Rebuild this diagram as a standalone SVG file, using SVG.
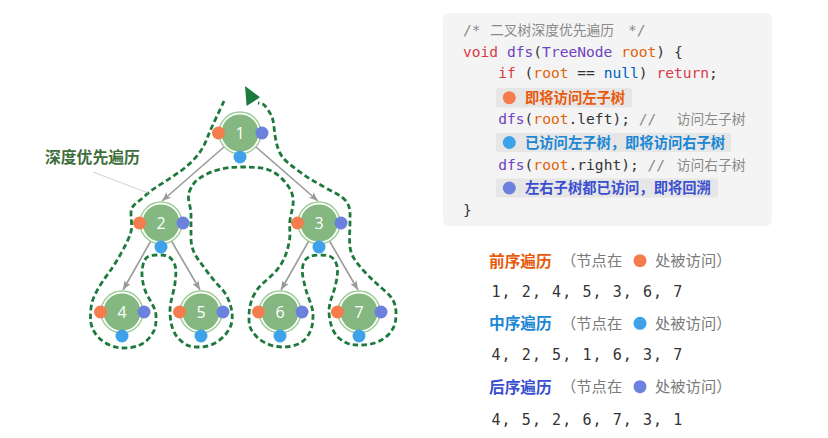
<svg xmlns="http://www.w3.org/2000/svg" width="828" height="438" viewBox="0 0 828 438">
<defs>
<style>
.edge{stroke:#9a9a9a;stroke-width:1.6;fill:none}
.ring{fill:#fff;stroke:#9ccb95;stroke-width:1.4}
.core{fill:#84b880}
.num{font-family:"Open Sans","Liberation Sans",sans-serif;font-size:16px;fill:#fff;text-anchor:middle}
.pre{fill:#f57c4d}
.in{fill:#3da2ea}
.post{fill:#6c80dd}
.code{font-family:"DejaVu Sans Mono","Noto Sans CJK SC",monospace;font-size:14.6px;fill:#333}
.cjk{font-family:"Noto Sans CJK SC",sans-serif;font-size:13.8px}
.cm{fill:#8a8a8a}
.kw{fill:#d73a49}
.fn{fill:#6f42c1}
.vr{fill:#e36209}
.nl{fill:#005cc5}
.hl{fill:#e6e6e6}
.hlt{font-family:"Noto Sans CJK SC",sans-serif;font-size:14.3px;font-weight:bold}
.hd{font-family:"Noto Sans CJK SC",sans-serif;font-size:15.7px;font-weight:bold}
.note{font-family:"Noto Sans CJK SC",sans-serif;font-size:15.3px;fill:#7a7a7a}
.seq{font-family:"DejaVu Sans Mono","Liberation Mono",monospace;font-size:15px;fill:#333;letter-spacing:1.07px}
</style>
<marker id="arr" viewBox="0 0 10 8" markerWidth="9" markerHeight="7.2" refX="10" refY="4" orient="auto" markerUnits="userSpaceOnUse">
<path d="M0,0 L10,4 L0,8 L2,4 z" fill="#9a9a9a"/>
</marker>
</defs>
<rect width="828" height="438" fill="#fff"/>

<g id="connectors">
<line class="edge" x1="240" y1="133" x2="162" y2="201" marker-end="url(#arr)"/>
<line class="edge" x1="240" y1="133" x2="318" y2="201" marker-end="url(#arr)"/>
<line class="edge" x1="161" y1="223" x2="123" y2="290" marker-end="url(#arr)"/>
<line class="edge" x1="161" y1="223" x2="200" y2="290" marker-end="url(#arr)"/>
<line class="edge" x1="319" y1="223" x2="281" y2="290" marker-end="url(#arr)"/>
<line class="edge" x1="319" y1="223" x2="358" y2="290" marker-end="url(#arr)"/>
</g>

<g id="node1"><circle class="ring" cx="240" cy="133" r="21"/><circle class="core" cx="240" cy="133" r="18.6"/><text class="num" x="240" y="138.8">1</text><circle class="pre" cx="218.5" cy="133" r="6.5"/><circle class="post" cx="262" cy="133" r="6.5"/><circle class="in" cx="240" cy="157" r="6.5"/></g>
<g id="node2"><circle class="ring" cx="161" cy="223" r="21"/><circle class="core" cx="161" cy="223" r="18.6"/><text class="num" x="161" y="228.8">2</text><circle class="pre" cx="139.5" cy="223" r="6.5"/><circle class="post" cx="183" cy="223" r="6.5"/><circle class="in" cx="161" cy="247" r="6.5"/></g>
<g id="node3"><circle class="ring" cx="319" cy="223" r="21"/><circle class="core" cx="319" cy="223" r="18.6"/><text class="num" x="319" y="228.8">3</text><circle class="pre" cx="297.5" cy="223" r="6.5"/><circle class="post" cx="341" cy="223" r="6.5"/><circle class="in" cx="319" cy="247" r="6.5"/></g>
<g id="node4"><circle class="ring" cx="122" cy="312" r="21"/><circle class="core" cx="122" cy="312" r="18.6"/><text class="num" x="122" y="317.8">4</text><circle class="pre" cx="100.5" cy="312" r="6.5"/><circle class="post" cx="144" cy="312" r="6.5"/><circle class="in" cx="122" cy="336" r="6.5"/></g>
<g id="node5"><circle class="ring" cx="201" cy="312" r="21"/><circle class="core" cx="201" cy="312" r="18.6"/><text class="num" x="201" y="317.8">5</text><circle class="pre" cx="179.5" cy="312" r="6.5"/><circle class="post" cx="223" cy="312" r="6.5"/><circle class="in" cx="201" cy="336" r="6.5"/></g>
<g id="node6"><circle class="ring" cx="280" cy="312" r="21"/><circle class="core" cx="280" cy="312" r="18.6"/><text class="num" x="280" y="317.8">6</text><circle class="pre" cx="258.5" cy="312" r="6.5"/><circle class="post" cx="302" cy="312" r="6.5"/><circle class="in" cx="280" cy="336" r="6.5"/></g>
<g id="node7"><circle class="ring" cx="359" cy="312" r="21"/><circle class="core" cx="359" cy="312" r="18.6"/><text class="num" x="359" y="317.8">7</text><circle class="pre" cx="337.5" cy="312" r="6.5"/><circle class="post" cx="381" cy="312" r="6.5"/><circle class="in" cx="359" cy="336" r="6.5"/></g>

<g id="dfs-path">
<path fill="none" stroke="#1e7a3c" stroke-width="2.8" stroke-dasharray="5.5 3.2" d="M 224 101 C 220 110 211 128 208 136 S 201 154 187 166 S 154 187 146 195 S 131 204 131 213 S 133 227 130 235 S 118 260 110 271 S 92 296 91 308 S 90 325 95 333 S 111 348 123 348 S 144 345 150 337 S 156 325 156 316 S 148 299 145 290 S 141 273 143 265 S 148 255 157 255 S 169 255 173 261 S 176 274 175 283 S 170 301 170 311 S 172 332 179 339 S 190 347 200 347 S 219 342 225 335 S 233 322 232 313 S 227 294 220 287 S 206 270 200 262 S 191 247 191 238 S 191 222 191 214 S 186 198 190 190 S 196 180 205 175 S 226 167 240 167 S 266 167 275 173 S 292 189 293 198 S 291 212 290 220 S 291 234 289 243 S 284 262 276 271 S 260 284 255 293 S 249 309 249 318 S 250 329 256 336 S 273 347 283 347 S 302 344 307 337 S 313 324 313 315 S 308 298 306 290 S 301 273 303 265 S 311 255 320 255 S 333 256 336 263 S 337 279 335 287 S 329 302 329 311 S 332 333 340 339 S 352 345 362 345 S 383 341 389 334 S 396 322 396 313 S 393 298 385 291 S 370 278 363 270 S 351 256 350 247 S 350 230 350 222 S 351 206 345 200 S 336 194 326 188 S 309 179 300 172 S 284 161 280 153 S 275 136 274 127 S 272 116 268 110 S 264 104 258 103"/>
<polygon points="245,86 260,97.3 246.6,106" fill="#1e7a3c"/>
</g>

<g id="label-dfs">
<line x1="93" y1="172" x2="148" y2="193" stroke="#c4c4c4" stroke-width="0.8"/>
<text x="45" y="163.3" font-family="Noto Sans CJK SC, sans-serif" font-size="15.8px" font-weight="bold" fill="#3f6e3c">深度优先遍历</text>
</g>

<g id="code-block">
<rect x="443" y="13" width="329" height="213" rx="6" fill="#f4f4f4"/>
<text class="code cm" x="463" y="35">/* <tspan class="cjk" x="490" font-size="13.5px">二叉树深度优先遍历</tspan><tspan x="628">*/</tspan></text>
<text class="code" x="463" y="56.5"><tspan class="kw">void</tspan> <tspan class="fn">dfs</tspan>(<tspan class="fn">TreeNode</tspan> <tspan class="vr">root</tspan>) {</text>
<text class="code" x="498.2" y="78.3"><tspan class="kw">if</tspan> (<tspan class="vr">root</tspan> == <tspan class="nl">null</tspan>) <tspan class="kw">return</tspan>;</text>
<rect class="hl" x="496" y="88" width="136" height="19.5" rx="2"/>
<circle class="pre" cx="509.3" cy="97.7" r="6.5"/>
<text class="hlt" x="525" y="103" fill="#e8590c">即将访问左子树</text>
<text class="code" x="498.2" y="124.3"><tspan class="fn">dfs</tspan>(<tspan class="vr">root</tspan>.left);  <tspan class="cm">//</tspan><tspan class="cjk cm" x="676.7">访问左子树</tspan></text>
<rect class="hl" x="496" y="133" width="235" height="19" rx="2"/>
<circle class="in" cx="509.3" cy="142.5" r="6.5"/>
<text class="hlt" x="525" y="147.9" fill="#1a86d4">已访问左子树，即将访问右子树</text>
<text class="code" x="498.2" y="170"><tspan class="fn">dfs</tspan>(<tspan class="vr">root</tspan>.right); <tspan class="cm">//</tspan><tspan class="cjk cm" x="676.7">访问右子树</tspan></text>
<rect class="hl" x="496" y="178.5" width="222" height="19" rx="2"/>
<circle class="post" cx="509.3" cy="188" r="6.5"/>
<text class="hlt" x="525" y="193.4" fill="#3a4fcf">左右子树都已访问，即将回溯</text>
<text class="code" x="463" y="215">}</text>
</g>

<g id="orders">
<text class="hd" x="489" y="266.6" fill="#e8590c">前序遍历</text>
<text class="note" x="561" y="266.4">（节点在</text>
<circle class="pre" cx="640" cy="260.7" r="6.5"/>
<text class="note" x="655" y="266.4">处被访问）</text>
<text class="seq" x="491.5" y="297">1, 2, 4, 5, 3, 6, 7</text>

<text class="hd" x="489" y="329.2" fill="#1a86d4">中序遍历</text>
<text class="note" x="561" y="329">（节点在</text>
<circle class="in" cx="640" cy="323.3" r="6.5"/>
<text class="note" x="655" y="329">处被访问）</text>
<text class="seq" x="491.5" y="360.3">4, 2, 5, 1, 6, 3, 7</text>

<text class="hd" x="489" y="392.6" fill="#3a4fcf">后序遍历</text>
<text class="note" x="561" y="392.4">（节点在</text>
<circle class="post" cx="640" cy="386.7" r="6.5"/>
<text class="note" x="655" y="392.4">处被访问）</text>
<text class="seq" x="491.5" y="424.6">4, 5, 2, 6, 7, 3, 1</text>
</g>
</svg>
